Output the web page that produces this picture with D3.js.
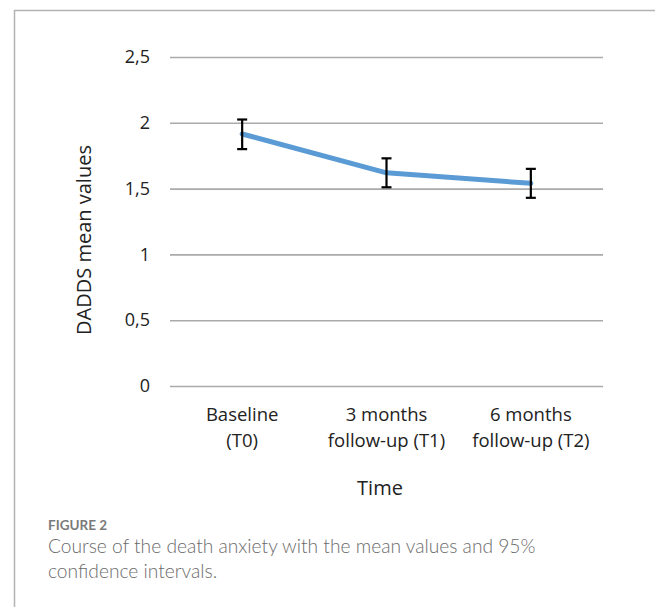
<!DOCTYPE html>
<html>
<head>
<meta charset="utf-8">
<script src="https://cdn.jsdelivr.net/npm/d3@7"></script>
<style>
  body { margin: 0; background: #fff; }
</style>
</head>
<body>
<div id="chart"></div>
<script>
(function(){

  // data
  var categories = [["Baseline", "(T0)"], ["3 months", "follow-up (T1)"], ["6 months", "follow-up (T2)"]]
  var means = [1.915, 1.62, 1.54]
  var lower = [1.80, 1.51, 1.43]
  var upper = [2.025, 1.73, 1.65]
  var yTicks = [0, 0.5, 1, 1.5, 2, 2.5]
  var yTickLabels = ["0", "0,5", "1", "1,5", "2", "2,5"]

  var width = 655, height = 607
  var plot = { left: 170, right: 603, top: 57, bottom: 386 }
  var chartFont = "'Open Sans', sans-serif"

  var svg = d3.select("#chart").append("svg")
        .attr("width", width)
        .attr("height", height)

  // frame lines (top + left)
  svg.append("path")
    .attr("d", "M14.5," + height + "V10.5H" + width)
    .attr("fill", "none")
    .attr("stroke", "#b3b3b3")
    .attr("stroke-width", 1.5)

  var x = d3.scaleBand()
    .domain(d3.range(categories.length))
    .range([plot.left, plot.right])

  var y = d3.scaleLinear()
    .domain([0, 2.5])
    .range([plot.bottom, plot.top])

  // gridlines + tick labels via axis
  var yAxis = d3.axisLeft(y)
    .tickValues(yTicks)
    .tickSize(-(plot.right - plot.left))
    .tickPadding(20)
    .tickFormat(function(d, i){ return yTickLabels[i] })

  var gy = svg.append("g")
    .attr("transform", "translate(" + plot.left + ",0)")
    .call(yAxis)
  gy.attr("font-family", null).attr("font-size", null)
  gy.select(".domain").remove()
  gy.selectAll(".tick line")
    .attr("stroke", "#aaaaaa")
    .attr("stroke-width", 1.6)
  gy.selectAll(".tick text")
    .style("font-family", chartFont)
    .style("font-size", "18px")
    .attr("fill", "#222")

  // category labels
  var cx = function(i){ return x(i) + x.bandwidth() / 2 }
  var cat = svg.append("g").selectAll("text")
    .data(categories)
    .enter().append("text")
    .attr("x", function(d, i){ return cx(i) })
    .attr("y", 421)
    .attr("text-anchor", "middle")
    .style("font-family", chartFont)
    .style("font-size", "18.5px")
    .attr("fill", "#222")
  cat.append("tspan")
    .attr("x", function(d, i){ return cx(i) })
    .text(function(d){ return d[0] })
  cat.append("tspan")
    .attr("x", function(d, i){ return cx(i) })
    .attr("dy", 26)
    .text(function(d){ return d[1] })

  // mean line
  var line = d3.line()
    .x(function(d, i){ return cx(i) })
    .y(function(d){ return y(d) })

  svg.append("path")
    .datum(means)
    .attr("d", line)
    .attr("fill", "none")
    .attr("stroke", "#5b9bd5")
    .attr("stroke-width", 5)
    .attr("stroke-linejoin", "round")
    .attr("stroke-linecap", "round")

  // error bars
  var eb = svg.append("g").selectAll("g")
    .data(means)
    .enter().append("g")
    .attr("stroke", "#000")
    .attr("stroke-width", 2.2)
  eb.append("line")
    .attr("x1", function(d, i){ return cx(i) })
    .attr("x2", function(d, i){ return cx(i) })
    .attr("y1", function(d, i){ return y(upper[i]) })
    .attr("y2", function(d, i){ return y(lower[i]) })
  eb.append("line")
    .attr("x1", function(d, i){ return cx(i) - 5 })
    .attr("x2", function(d, i){ return cx(i) + 5 })
    .attr("y1", function(d, i){ return y(upper[i]) })
    .attr("y2", function(d, i){ return y(upper[i]) })
  eb.append("line")
    .attr("x1", function(d, i){ return cx(i) - 5 })
    .attr("x2", function(d, i){ return cx(i) + 5 })
    .attr("y1", function(d, i){ return y(lower[i]) })
    .attr("y2", function(d, i){ return y(lower[i]) })

  // axis titles
  svg.append("text")
    .attr("x", 380)
    .attr("y", 495)
    .attr("text-anchor", "middle")
    .style("font-family", chartFont)
    .style("font-size", "20px")
    .attr("fill", "#222")
    .text("Time")

  svg.append("text")
    .attr("transform", "translate(91,240) rotate(-90)")
    .attr("text-anchor", "middle")
    .style("font-family", chartFont)
    .style("font-size", "20px")
    .attr("fill", "#222")
    .text("DADDS mean values")

  // caption
  svg.append("text")
    .attr("x", 48)
    .attr("y", 530)
    .style("font-family", "Lato, sans-serif")
    .style("font-size", "13.5px")
    .style("font-weight", "bold")
    .attr("fill", "#7a7a7a")
    .text("FIGURE 2")

  var cap = svg.append("text")
    .attr("y", 553)
    .style("font-family", "Lato, sans-serif")
    .style("font-size", "19.2px")
    .style("font-weight", 300)
    .attr("fill", "#6b6b6b")
  cap.append("tspan").attr("x", 48).text("Course of the death anxiety with the mean values and 95%")
  cap.append("tspan").attr("x", 48).attr("dy", 25).text("confidence intervals.")

})()
</script>
</body>
</html>
